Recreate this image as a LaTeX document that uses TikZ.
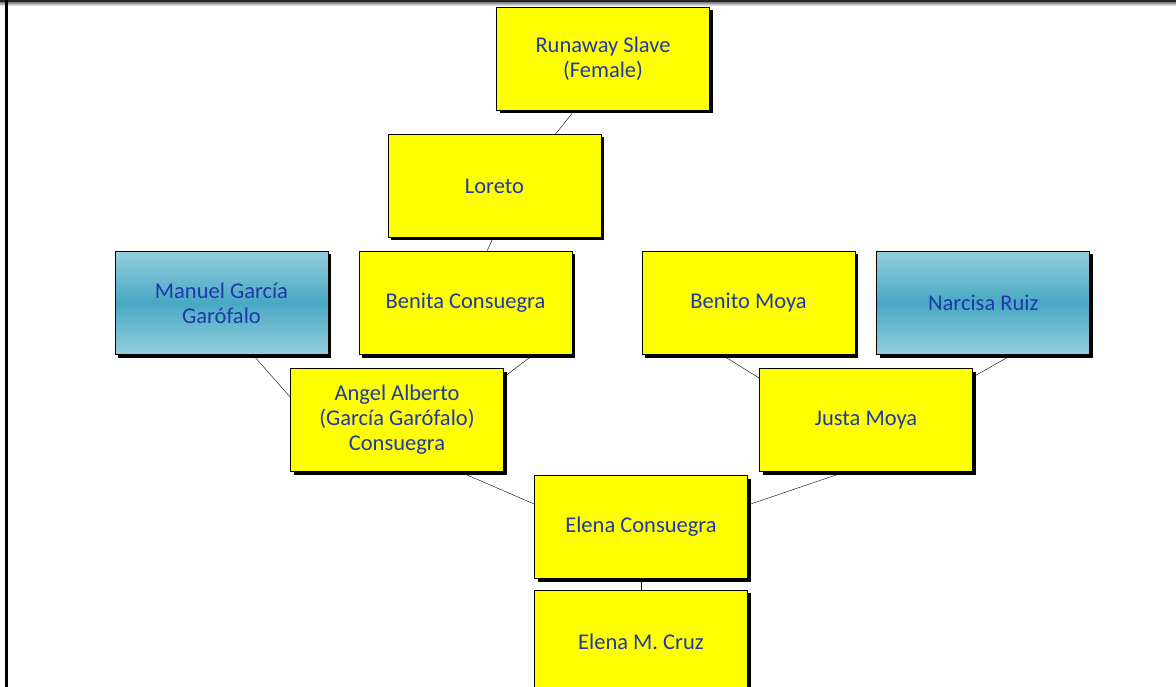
\documentclass[tikz,border=0pt]{standalone}
\usepackage{fontspec}
\setmainfont{Carlito}
\usepackage{xcolor}
\usetikzlibrary{shapes,positioning,shadows,backgrounds}

\definecolor{nameblue}{RGB}{30,58,168}
\definecolor{boxyellow}{RGB}{255,255,0}
\definecolor{seaedge}{RGB}{148,206,221}
\definecolor{seamid}{RGB}{72,168,196}

\begin{document}
\begin{tikzpicture}[x=1pt,y=-1pt,node distance=11pt]
            \tikzstyle{person} = [rectangle, draw=black, thick, text=nameblue, align=center, inner sep=0pt,
                                  minimum width=213pt, minimum height=103pt, font=\fontsize{22.5}{25}\selectfont,
                                  drop shadow={shadow xshift=3pt, shadow yshift=-3pt, fill=black, opacity=1}]
            \tikzstyle{kin} = [person, fill=boxyellow]
            \tikzstyle{spouse} = [person, top color=seaedge, bottom color=seaedge, middle color=seamid]
            \tikzstyle{link} = [thin, black]

            \useasboundingbox (0,0) rectangle (1176,687);
            % page frame
            \fill[black!85] (0,0) rectangle (1176,2.5);
            \shade[top color=black!45, bottom color=white] (0,2.5) rectangle (1176,6);
            \fill[black] (5,0) rectangle (7.5,687);

            \node [kin] (rs) at (603,59) {Runaway Slave\\(Female)};
            \node [kin] (lo) at (494.5,186) {Loreto};
            \node [spouse] (mg) at (221.5,303) {Manuel García\\Garófalo};
            \node [kin] (bc) at (465.5,303) {Benita Consuegra};
            \node [kin] (bm) at (748.5,303) {Benito Moya};
            \node [spouse, right=21pt of bm] (nr) {Narcisa Ruiz};
            \node [kin] (an) at (397,420) {Angel Alberto\\(García Garófalo)\\Consuegra};
            \node [kin] (jm) at (866,420) {Justa Moya};
            \node [kin] (ec) at (641,527) {Elena Consuegra};
            \node [kin, below=of ec] (em) {Elena M. Cruz};

            \begin{scope}[on background layer]
                \draw [link] ([xshift=-29pt]rs.south) -- ([xshift=61pt]lo.north);
                \draw [link] ([xshift=-1.5pt]lo.south) -- ([xshift=21.5pt]bc.north);
                \draw [link] ([xshift=31.5pt]mg.south) -- ([yshift=23pt]an.west);
                \draw [link] ([xshift=67.5pt]bc.south) -- ([yshift=43pt]an.east);
                \draw [link] ([xshift=-26.5pt]bm.south) -- ([yshift=42pt]jm.west);
                \draw [link] ([xshift=28.5pt]nr.south) -- ([yshift=43pt]jm.east);
                \draw [link] ([xshift=63pt]an.south) -- ([yshift=23pt]ec.west);
                \draw [link] ([xshift=-21pt]jm.south) -- ([yshift=22pt]ec.east);
                \draw [link] (ec.south) -- (em.north);
            \end{scope}
        \end{tikzpicture}
\end{document}
